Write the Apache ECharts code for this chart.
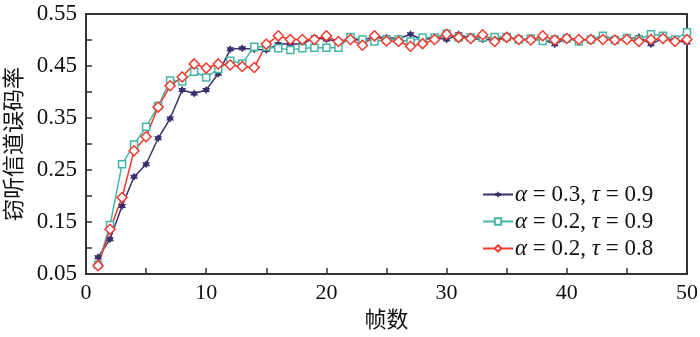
<!DOCTYPE html>
<html>
<head>
<meta charset="utf-8">
<script src="https://cdn.jsdelivr.net/npm/echarts@6/dist/echarts.min.js"></script>
<style>
	html, body { margin: 0; padding: 0; background: #fff; }
	#chart { width: 700px; height: 337px; }
</style>
</head>
<body>
<div id="chart"></div>
<script>
// 帧数
var frames = [1, 2, 3, 4, 5, 6, 7, 8, 9, 10, 11, 12, 13, 14, 15, 16, 17, 18, 19, 20,
	21, 22, 23, 24, 25, 26, 27, 28, 29, 30, 31, 32, 33, 34, 35, 36, 37, 38, 39, 40,
	41, 42, 43, 44, 45, 46, 47, 48, 49, 50];

// 图例名称
var names = ['α = 0.3, τ = 0.9', 'α = 0.2, τ = 0.9', 'α = 0.2, τ = 0.8'];

// 窃听信道误码率
var a3t9 = [0.082, 0.117, 0.181, 0.237, 0.261, 0.311, 0.349, 0.404, 0.397, 0.404,
	0.435, 0.482, 0.484, 0.482, 0.481, 0.492, 0.493, 0.492, 0.505, 0.501,
	0.498, 0.501, 0.500, 0.506, 0.505, 0.503, 0.511, 0.500, 0.505, 0.501,
	0.511, 0.503, 0.501, 0.500, 0.506, 0.501, 0.501, 0.501, 0.492, 0.503,
	0.499, 0.501, 0.508, 0.501, 0.501, 0.506, 0.492, 0.503, 0.499, 0.495];

var a2t9 = [0.068, 0.144, 0.261, 0.299, 0.333, 0.373, 0.422, 0.420, 0.439, 0.428,
	0.444, 0.460, 0.455, 0.487, 0.487, 0.484, 0.481, 0.484, 0.485, 0.485,
	0.485, 0.506, 0.501, 0.497, 0.501, 0.501, 0.497, 0.505, 0.505, 0.512,
	0.505, 0.505, 0.505, 0.506, 0.506, 0.501, 0.503, 0.498, 0.501, 0.503,
	0.497, 0.501, 0.508, 0.500, 0.504, 0.501, 0.511, 0.508, 0.501, 0.515];

var a2t8 = [0.066, 0.136, 0.197, 0.287, 0.314, 0.371, 0.412, 0.429, 0.454, 0.446,
	0.454, 0.452, 0.449, 0.447, 0.492, 0.508, 0.501, 0.501, 0.501, 0.508,
	0.497, 0.501, 0.490, 0.508, 0.498, 0.497, 0.488, 0.493, 0.501, 0.511,
	0.505, 0.503, 0.510, 0.497, 0.505, 0.501, 0.500, 0.508, 0.500, 0.503,
	0.501, 0.501, 0.501, 0.500, 0.501, 0.497, 0.501, 0.503, 0.497, 0.501];

var serif = "'Liberation Serif', 'Noto Sans CJK SC', serif";
var star = 'path://M0,-10L2.9,-5L8.7,-5L5.8,0L8.7,5L2.9,5L0,10L-2.9,5L-8.7,5L-5.8,0L-8.7,-5L-2.9,-5Z';

function pairs(vals) {
	return vals.map(function (v, i) { return [frames[i], v]; });
}

var chart = echarts.init(document.getElementById('chart'));

chart.setOption({
	animation: false,
	grid: {
		left: 86, right: 13, top: 14, bottom: 63,
		outerBoundsMode: 'none',
		containLabel: false,
		show: true,
		borderColor: '#333',
		borderWidth: 2
	},
	legend: {
		orient: 'vertical',
		left: 477,
		top: 178,
		itemWidth: 30,
		itemHeight: 8,
		itemGap: 4,
		data: names,
		formatter: function (name) {
			return name.replace('α', '{i|α}').replace('τ', '{i|τ}');
		},
		textStyle: {
			fontFamily: serif,
			fontSize: 23,
			color: '#111',
			padding: [0, 0, 0, -3],
			rich: {
				i: { fontFamily: serif, fontSize: 23, fontStyle: 'italic', color: '#111' }
			}
		}
	},
	xAxis: {
		type: 'value',
		min: 0, max: 50, interval: 10,
		name: '帧数',
		nameLocation: 'middle',
		nameGap: 36,
		nameTextStyle: { fontFamily: serif, fontSize: 22, color: '#111' },
		axisLine: { lineStyle: { color: '#333', width: 2 } },
		axisTick: { inside: true, length: 6, lineStyle: { color: '#333', width: 1.5 } },
		minorTick: { show: true, splitNumber: 2, length: 6, lineStyle: { color: '#333', width: 1.5 } },
		splitLine: { show: false },
		axisLabel: { fontFamily: serif, fontSize: 22, color: '#111', margin: 8 }
	},
	yAxis: {
		type: 'value',
		min: 0.05, max: 0.55, interval: 0.1,
		name: '窃听信道误码率',
		nameLocation: 'middle',
		nameGap: 60,
		nameTextStyle: { fontFamily: serif, fontSize: 22, color: '#111' },
		axisLine: { lineStyle: { color: '#333', width: 2 } },
		axisTick: { inside: true, length: 6, lineStyle: { color: '#333', width: 1.5 } },
		minorTick: { show: true, splitNumber: 2, length: 6, lineStyle: { color: '#333', width: 1.5 } },
		splitLine: { show: false },
		axisLabel: {
			fontFamily: serif, fontSize: 23, color: '#111', margin: 9,
			formatter: function (v) { return v.toFixed(2); }
		}
	},
	series: [
		{
			name: names[0],
			type: 'line',
			data: pairs(a3t9),
			symbol: star,
			symbolSize: 8,
			lineStyle: { color: '#3a2f6e', width: 1.5 },
			itemStyle: { color: '#3a2f6e' }
		},
		{
			name: names[1],
			type: 'line',
			data: pairs(a2t9),
			symbol: 'rect',
			symbolSize: 7,
			lineStyle: { color: '#45b5a5', width: 1.5 },
			itemStyle: { color: '#fff', borderColor: '#45b5a5', borderWidth: 1.5 }
		},
		{
			name: names[2],
			type: 'line',
			data: pairs(a2t8),
			symbol: 'diamond',
			symbolSize: 10,
			lineStyle: { color: '#f2392e', width: 1.5 },
			itemStyle: { color: '#fff', borderColor: '#f2392e', borderWidth: 1.5 }
		}
	]
});
</script>
</body>
</html>
